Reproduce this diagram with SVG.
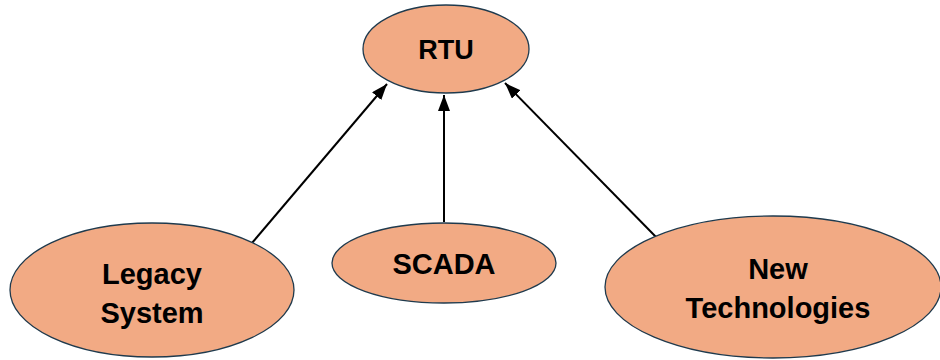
<svg xmlns="http://www.w3.org/2000/svg" width="940" height="360" viewBox="0 0 940 360">
  <style>
    .node ellipse { fill: #F2AA84; stroke: #1F3A4D; stroke-width: 1.3; }
    .node text { font-family: "Liberation Sans", Arial, sans-serif; font-weight: bold; font-size: 29px; fill: #000; text-anchor: middle; }
    .edges line { stroke: #000; stroke-width: 2; marker-end: url(#arrow); }
  </style>
  <defs>
    <marker id="arrow" viewBox="0 0 16 12" refX="16" refY="6" markerWidth="16" markerHeight="12" orient="auto" markerUnits="userSpaceOnUse">
      <path d="M0,0 L16,6 L0,12 z" fill="#000"/>
    </marker>
  </defs>
  <rect width="940" height="360" fill="#fff"/>

  <g class="edges">
    <line x1="252" y1="243" x2="387" y2="84"/>
    <line x1="444" y1="222" x2="444" y2="95"/>
    <line x1="657" y1="238" x2="505" y2="83"/>
  </g>

  <g id="rtu" class="node">
    <ellipse cx="446" cy="49" rx="83" ry="44"/>
    <text x="446" y="59" style="font-size:27px">RTU</text>
  </g>
  <g id="legacy" class="node">
    <ellipse cx="152" cy="290" rx="142" ry="67"/>
    <text x="152" y="284">Legacy</text>
    <text x="152" y="323">System</text>
  </g>
  <g id="scada" class="node">
    <ellipse cx="444" cy="263" rx="112" ry="40"/>
    <text x="444" y="274">SCADA</text>
  </g>
  <g id="newtech" class="node">
    <ellipse cx="773" cy="287" rx="168" ry="71"/>
    <text x="778" y="279">New</text>
    <text x="778" y="318">Technologies</text>
  </g>
</svg>
